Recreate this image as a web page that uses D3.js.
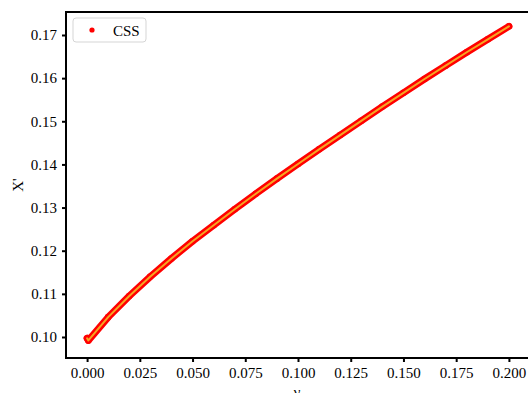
<!DOCTYPE html>
<html>
<head>
<meta charset="utf-8">
<script src="https://cdn.jsdelivr.net/npm/d3@7"></script>
<style>
  html, body { margin: 0; padding: 0; background: #fff; }
  svg { display: block; }
  text { font-family: "Liberation Serif", "DejaVu Serif", serif; }
</style>
</head>
<body>
<svg id="chart" width="528" height="393"></svg>
<script>
// ---- data ----
const gammaValues = [0, 0.0006, 0.01, 0.02, 0.03, 0.04, 0.05, 0.06, 0.07, 0.08, 0.09, 0.10,
                     0.11, 0.12, 0.13, 0.14, 0.15, 0.16, 0.17, 0.18, 0.19, 0.20];
const xPrimeValues = [0.0997, 0.0992, 0.1046, 0.1095, 0.1140, 0.1182, 0.1222, 0.1259, 0.1296, 0.1332, 0.1367, 0.1401,
                      0.1435, 0.1468, 0.1501, 0.1534, 0.1566, 0.1598, 0.1629, 0.1660, 0.1690, 0.1720];
const xTicks = [0, 0.025, 0.05, 0.075, 0.1, 0.125, 0.15, 0.175, 0.2];
const yTicks = [0.10, 0.11, 0.12, 0.13, 0.14, 0.15, 0.16, 0.17];
const seriesName = "CSS";
const xLabel = "γ";
const yLabel = "X'";

const data = gammaValues.map((g, i) => ({ x: g, y: xPrimeValues[i] }));

const svg = d3.select("#chart");
const mLeft = 66, mRight = 530, mTop = 12, mBottom = 358;

const x = d3.scaleLinear().domain([-0.01, 0.21]).range([mLeft, mRight]);
const y = d3.scaleLinear().domain([0.09513, 0.17533]).range([mBottom, mTop]);

// axes
const xAxis = d3.axisBottom(x).tickValues(xTicks).tickFormat(d3.format(".3f")).tickSize(4).tickPadding(5);
const yAxis = d3.axisLeft(y).tickValues(yTicks).tickFormat(d3.format(".2f")).tickSize(4).tickPadding(5);

const gx = svg.append("g").attr("transform", `translate(0,${mBottom})`).call(xAxis);
const gy = svg.append("g").attr("transform", `translate(${mLeft},0)`).call(yAxis);
[gx, gy].forEach(g => {
  g.select(".domain").remove();
  g.selectAll(".tick line").attr("stroke", "#000").attr("stroke-width", 2);
  g.selectAll(".tick text").attr("fill", "#000").style("font-size", "15px")
    .style("font-family", "'Liberation Serif', serif");
});

// series: dense red markers (band) + orange line
const line = d3.line().x(d => x(d.x)).y(d => y(d.y)).curve(d3.curveLinear);
svg.append("path").datum(data).attr("d", line)
  .attr("fill", "none").attr("stroke", "#ff0000").attr("stroke-width", 7)
  .attr("stroke-linecap", "round").attr("stroke-linejoin", "round");
svg.selectAll("circle.pt").data(data).enter().append("circle")
  .attr("class", "pt").attr("cx", d => x(d.x)).attr("cy", d => y(d.y)).attr("r", 3.3)
  .attr("fill", "#ff0000");
svg.append("path").datum(data).attr("d", line)
  .attr("fill", "none").attr("stroke", "#f5a623").attr("stroke-width", 2)
  .attr("stroke-linecap", "round").attr("stroke-linejoin", "round");

// spines
svg.append("rect").attr("x", mLeft).attr("y", mTop).attr("width", mRight - mLeft).attr("height", mBottom - mTop)
  .attr("fill", "none").attr("stroke", "#000").attr("stroke-width", 2);

// axis labels
svg.append("text").attr("x", (mLeft + mRight) / 2 - 1).attr("y", 397).attr("text-anchor", "middle")
  .style("font-size", "15px").attr("fill", "#000").text(xLabel);
svg.append("text").attr("transform", `translate(23,${(mTop + mBottom) / 2}) rotate(-90)`)
  .attr("text-anchor", "middle").style("font-size", "15px").attr("fill", "#000").text(yLabel);

// legend
const lg = svg.append("g");
lg.append("rect").attr("x", 73).attr("y", 18).attr("width", 73).attr("height", 24).attr("rx", 3)
  .attr("fill", "#fff").attr("fill-opacity", 0.8).attr("stroke", "#d5d5d5").attr("stroke-width", 1);
lg.append("circle").attr("cx", 92).attr("cy", 30).attr("r", 2.6).attr("fill", "#ff0000");
lg.append("text").attr("x", 113).attr("y", 35.5).style("font-size", "15px").attr("fill", "#000").text(seriesName);
</script>
</body>
</html>
